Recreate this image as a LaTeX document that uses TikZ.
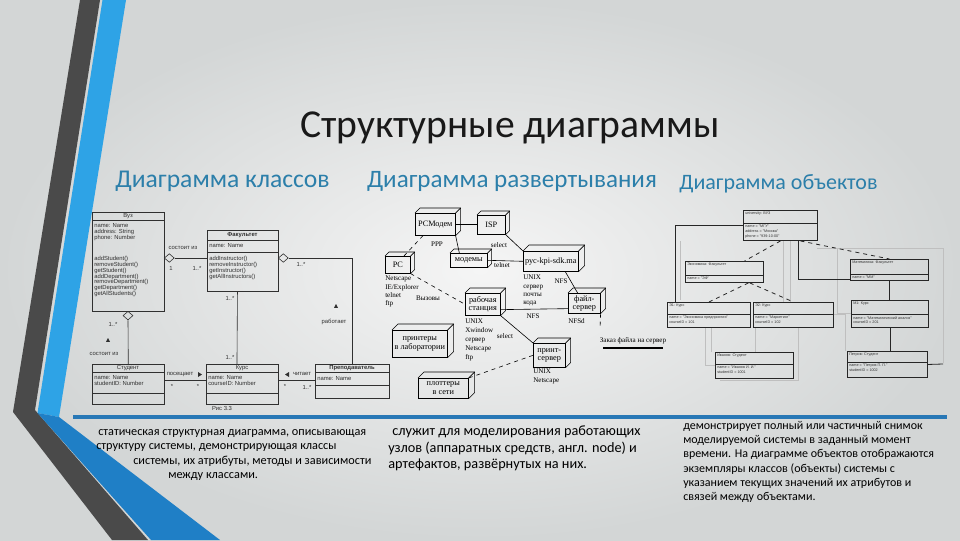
\documentclass[tikz,border=0pt]{standalone}
\usepackage{fontspec}
\setmainfont{Carlito}
\newfontfamily\dsans{Liberation Sans}
\newfontfamily\dserif{Liberation Serif}
\usetikzlibrary{calc,shapes.geometric}
\definecolor{bgin}{HTML}{F5F5F5}
\definecolor{bgout}{HTML}{D3D6D6}
\definecolor{darkstripe}{HTML}{4A4A4A}
\definecolor{bluestripe}{HTML}{2EA3E6}
\definecolor{bluestripe2}{HTML}{1F7FC6}
\definecolor{rulecol}{HTML}{2878B6}
\definecolor{headcol}{HTML}{2C7FAA}
\definecolor{ink}{HTML}{303030}
\newcommand{\clsbox}[5]{\node[cls, minimum width={(#4-#2)*0.75pt}, minimum height={(#5-#3)*0.75pt}] (#1) at (#2,#3) {};}
\newcommand{\cube}[7]{%
  \node[dnode, minimum width={(#4-#2)*0.75pt}, minimum height={(#5-#3)*0.75pt}] (#1) at (#2,#3) {#7};
  \draw[dl] (#1.north west) -- ++(#6,-#6) -- ($(#1.north east)+(#6,-#6)$) -- ($(#1.south east)+(#6,-#6)$) -- (#1.south east);
  \draw[dl] (#1.north east) -- ++(#6,-#6);}
\newcommand{\objbox}[8]{%
  \node[obox, minimum width={(#4-#2)*0.75pt}, minimum height={(#5-#3)*0.75pt}] (#1) at (#2,#3) {};
  \draw[ol] (#2,#6) -- (#4,#6);
  \node[otxt] (#1t) at (#2+2,#3+2) {#7};
  \node[otxt] (#1a) at (#2+2,#6+2) {#8};}
\newcommand{\tri}[2]{\fill[ink] (#1-2,#2+1.8) -- (#1+2,#2+1.8) -- (#1,#2-2) -- cycle;}
\begin{document}
\begin{tikzpicture}[x=0.75pt,y=-0.75pt,
  cls/.style={draw=ink, line width=0.45pt, inner sep=0, anchor=north west},
  sep/.style={draw=ink, line width=0.4pt},
  cl/.style={draw=ink, line width=0.45pt},
  dia/.style={diamond, draw=ink, line width=0.45pt, inner sep=0, minimum width=7.5pt, minimum height=6.5pt},
  tiny/.style={font=\dsans\fontsize{4.4}{4.6}\selectfont, inner sep=0, text=ink},
  tinyb/.style={font=\dsans\bfseries\fontsize{4.4}{4.6}\selectfont, inner sep=0, text=ink},
  tinyl/.style={font=\dsans\fontsize{4.4}{4.4}\selectfont, inner sep=0, text=ink, align=left, anchor=north west},
  dnode/.style={draw=black, line width=0.45pt, inner sep=0, anchor=north west, font=\dserif\fontsize{6.2}{6.4}\selectfont, align=center},
  dl/.style={draw=black, line width=0.45pt},
  dtxt/.style={font=\dserif\fontsize{5.3}{5.3}\selectfont, inner sep=0},
  dtl/.style={font=\dserif\fontsize{5.3}{6.2}\selectfont, inner sep=0, align=left, anchor=north west},
  obox/.style={draw=black!85, line width=0.7pt, inner sep=0, anchor=north west},
  ol/.style={draw=black!85, line width=0.6pt},
  faint/.style={draw=black!25, line width=0.4pt},
  otxt/.style={font=\dsans\fontsize{2.8}{3.6}\selectfont, inner sep=0, align=left, anchor=north west, text=black!80},
  bodytxt/.style={font=\fontsize{9.2}{10}\selectfont, inner sep=0, anchor=base west, text=black},
  bodytxtc/.style={font=\fontsize{9.0}{10}\selectfont, inner sep=0, anchor=base west, text=black},
  bodytxtb/.style={font=\fontsize{10.7}{12}\selectfont, inner sep=0, anchor=base west, text=black},
  head/.style={font=\fontsize{19.2}{20}\selectfont, text=headcol, inner sep=0, anchor=base}
]
\useasboundingbox (0,0) rectangle (960,540);
\shade[inner color=bgin, outer color=bgout] (0,0) rectangle (960,540);
% left stripes
\fill[darkstripe] (80,0) -- (100,0) -- (35,410) -- (148,540) -- (112,540) -- (13,412) -- cycle;
\fill[bluestripe] (102.5,0) -- (126,0) -- (59,417) -- (37.5,413) -- cycle;
\fill[bluestripe2] (37.5,413) -- (59,417) -- (220,540) -- (151,540) -- cycle;
% rule
\draw[rulecol, line width=3pt] (73,416.5) -- (947,416.5);

% titles
\node[font=\fontsize{29.7}{32}\selectfont, text=black!90, inner sep=0, anchor=base] (title) at (510,137) {Структурные диаграммы};
\node[head] (h1) at (222.5,187) {Диаграмма классов};
\node[head, font=\fontsize{18.8}{20}\selectfont] (h2) at (512,187) {Диаграмма развертывания};
\node[head, font=\fontsize{16.5}{18}\selectfont] (h3) at (778.5,189) {Диаграмма объектов};

% ===== class diagram =====
\clsbox{vuz}{92}{212}{164}{311}
\draw[sep] (92,220) -- (164,220);
\node[tiny] (vuzT) at (128,216.5) {Вуз};
\node[tinyl] (vuzA) at (94,223) {name: Name\\address: String\\phone: Number};
\node[tinyl] (vuzO) at (94,256) {addStudent()\\removeStudent()\\getStudent()\\addDepartment()\\removeDepartment()\\getDepartment()\\getAllStudents()};

\clsbox{fac}{207}{230}{278}{291}
\draw[sep] (207,240) -- (278,240);
\draw[sep] (207,252) -- (278,252);
\node[tinyb] (facT) at (242.5,235.5) {Факультет};
\node[tinyl] (facA) at (209,243.5) {name: Name};
\node[tinyl] (facO) at (209,256) {addInstructor()\\removeInstructor()\\getInstructor()\\getAllInstructors()};

\clsbox{stud}{92}{364}{164}{404}
\draw[sep] (92,372) -- (164,372);
\draw[sep] (92,393) -- (164,393);
\node[tiny] (studT) at (128,368) {Студент};
\node[tinyl] (studA) at (94,375) {name: Name\\studentID: Number};

\clsbox{kurs}{206}{364}{278}{404}
\draw[sep] (206,372) -- (278,372);
\draw[sep] (206,393) -- (278,393);
\node[tiny] (kursT) at (242,368) {Курс};
\node[tinyl] (kursA) at (208,375) {name: Name\\courseID: Number};

\clsbox{prep}{315}{364}{389}{398}
\draw[sep] (315,372) -- (389,372);
\draw[sep] (315,385) -- (389,385);
\node[tinyb] (prepT) at (352,368) {Преподаватель};
\node[tinyl] (prepA) at (317,376) {name: Name};

\node[dia, anchor=west] (d1) at (164,258) {};
\draw[cl] (d1.east) -- (d1.east -| fac.west);
\node[dia, anchor=west] (d2) at (278,258) {};
\draw[cl] (d2.east) -| (prep.north);
\draw[cl] ([xshift=-4pt]fac.south) -- ([xshift=-4pt]kurs.north);
\node[dia, anchor=north] (d3) at (128,311) {};
\draw[cl] (d3.south) -- (stud.north);
\draw[cl] ([yshift=3pt]stud.east) -- ([yshift=3pt]kurs.west);
\draw[cl] ([yshift=3pt]kurs.east) -- ([yshift=3pt]prep.west |- kurs.east);

\node[tiny] (l1) at (183,248) {состоит из};
\node[tiny] (l2) at (171,268) {1};
\node[tiny] (l3) at (197,268) {1..*};
\node[tiny] (l4) at (301,264) {1..*};
\tri{336}{306}
\node[tiny] (l5) at (334,322) {работает};
\node[tiny] (l6) at (230,298) {1..*};
\node[tiny] (l7) at (230,357) {1..*};
\node[tiny] (l8) at (113,324) {1..*};
\tri{108}{340}
\node[tiny] (l9) at (104,354) {состоит из};
\node[tiny] (l10) at (180,374) {посещает};
\fill[ink] (198,372) -- (202,374.5) -- (198,377) -- cycle;
\node[tiny] (l11) at (172,386) {*};
\node[tiny] (l12) at (198,386) {*};
\fill[ink] (289,372) -- (285,374.5) -- (289,377) -- cycle;
\node[tiny] (l13) at (302,374) {читает};
\node[tiny] (l14) at (285,386) {*};
\node[tiny] (l15) at (307,387) {1..*};
\node[tiny] (l16) at (222,408) {Рис 3.3};

% ===== deployment diagram =====
\cube{pcm}{415}{213}{455}{235}{5}{PCМодем}
\cube{isp}{477}{215}{505}{234}{4}{ISP}
\cube{modems}{450}{253}{487}{267}{4}{модемы}
\cube{kpi}{523}{251}{578}{271}{6}{рус-kpi-sdk.ma}
\cube{pc}{385}{256}{410}{273}{4}{PC}
\cube{ws}{465}{293}{500}{315}{5}{рабочая\\станция}
\cube{fs}{568}{293}{600}{313}{5}{файл-\\сервер}
\cube{pr}{392}{330}{447}{357}{6}{принтеры\\в лаборатории}
\cube{ps}{533}{343}{565}{367}{5}{принт-\\сервер}
\cube{pl}{418}{378}{468}{398}{6}{плоттеры\\в сети}

\draw[dl] (pcm.east) -- (isp.west |- pcm.east);
\draw[dl] (pcm.south east) -- ([xshift=7pt]modems.north west);
\node[dtxt] (ppp) at (437,244) {PPP};
\draw[dl] (modems.east) -- (kpi.west);
\node[dtxt] (telnet) at (502,265) {telnet};
\draw[dl] (isp.south east) -- (kpi.north west);
\node[dtxt] (sel1) at (499,245) {select};
\draw[dl, dashed] ([xshift=-5pt]pc.north east) -- ([xshift=6pt]pcm.south west);
\draw[dl, dashed] (pc.south east) -- (ws.west);
\node[dtxt] (calls) at (428,298) {Вызовы};
\draw[dl] ([yshift=-4pt]ws.east) -- ([yshift=-4pt]fs.west);
\node[dtxt] (nfs1) at (533,316) {NFS};
\draw[dl] ([xshift=-10pt]kpi.south east) -- ([xshift=-5pt]fs.north);
\node[dtxt] (nfs2) at (561,281) {NFS};
\draw[dl] (ws.south east) -- (ps.north west);
\node[dtxt] (sel2) at (505,336) {select};
\draw[dl, dashed] (ps.west) -- (pl.north east);
\coordinate (fsend) at (600,329);
\draw[dl, dashed] (fs.south east) -- (fsend);
\node[dtxt] (req) at (633,341) {Заказ файла на сервер};
\coordinate (reqa) at (603,348);
\coordinate (reqb) at (663,348);
\draw[line width=0.8pt] (reqa) -- (reqb);

\node[dtl] (pcT) at (385,276) {Netscape\\IE/Explorer\\telnet\\ftp};
\node[dtl, font=\dserif\fontsize{5.3}{6.2}\selectfont] (kpiT) at (523,275) {UNIX\\сервер\\почты\\кода};
\node[dtl, font=\dserif\fontsize{5.3}{6.7}\selectfont] (wsT) at (465,319) {UNIX\\Xwindow\\сервер\\Netscape\\ftp};
\node[dtl] (fsT) at (568,318) {NFSd};
\node[dtl] (psT) at (533,369) {UNIX\\Netscape};

% ===== object diagram =====
% faint lines
\draw[faint] (783,241) -- (783,302);
\draw[faint] (790,241) -- (790,302);
\draw[faint] (837,248) -- (837,313) -- (851,313);
\draw[faint] (817,248) -- (943,248) -- (943,363);
\draw[faint] (705,327) -- (705,365) -- (715,365);
\draw[faint] (711,327) -- (711,352);
\draw[faint] (755,327) -- (755,352);
\draw[faint] (798,327) -- (798,380) -- (720,380);
\draw[faint] (833,314) -- (845,314) -- (845,351);
\draw[faint] (680,241) -- (680,300);

\objbox{o1}{743}{210}{817}{240}{223}{university: ВУЗ}{name = "МГУ"\\address = "Москва"\\phone = "939-10-00"}
\objbox{o2}{685}{261}{763}{282}{275}{Экономика: Факультет}{name = "ЭФ"}
\objbox{o3}{850}{259}{928}{280}{274}{Математика: Факультет}{name = "ММ"}
\objbox{o4}{667}{302}{750}{327}{314}{Э1: Курс}{name = "Экономика предприятия"\\courseID = 101}
\objbox{o5}{753}{302}{833}{327}{314}{Э2: Курс}{name = "Маркетинг"\\courseID = 102}
\objbox{o6}{851}{300}{928}{327}{314}{М1: Курс}{name = "Математический анализ"\\courseID = 201}
\objbox{o7}{715}{352}{793}{378}{364}{Иванов: Студент}{name = "Иванов И. И."\\studentID = 1001}
\objbox{o8}{847}{351}{927}{377}{362}{Петров: Студент}{name = "Петров П. П."\\studentID = 1002}

\draw[ol] (o1.west) -| ([xshift=6pt]o4.north west);
\draw[ol] ([xshift=-15pt]o1.south east) |- ([yshift=1.5pt]o3.south west);
\draw[ol] (o3.south) -- (o3.south |- o6.north);
\draw[ol] (o6.south) -- (o6.south |- o8.north);
\coordinate (o8end) at (943,364);
\draw[ol] (o8.east) -- (o8end);
\draw[ol, dashed] (o1.south) -- ([xshift=15pt]o2.north);
\draw[ol, dashed] ([xshift=15pt]o1.south) -- (o3.north);
\draw[ol, dashed] ([xshift=18pt]o2.south) -- (o4.north);
\draw[ol, dashed] ([xshift=19pt]o2.south) -- (o5.north);

% ===== body texts =====
\node[bodytxt] (t1a) at (98,435) {статическая структурная диаграмма, описывающая};
\node[bodytxt] (t1b) at (96,449) {структуру системы, демонстрирующая классы};
\node[bodytxt] (t1c) at (133,464) {системы, их атрибуты, методы и зависимости};
\node[bodytxt] (t1d) at (168,478) {между классами.};

\node[bodytxtb] (t2a) at (392,435) {служит для моделирования работающих};
\node[bodytxtb] (t2b) at (388,452) {узлов (аппаратных средств, англ. node) и};
\node[bodytxtb] (t2c) at (388,468) {артефактов, развёрнутых на них.};

\node[bodytxtc] (t3a) at (683,429) {демонстрирует полный или частичный снимок};
\node[bodytxtc] (t3b) at (683,443) {моделируемой системы в заданный момент};
\node[bodytxtc] (t3c) at (683,457) {времени. На диаграмме объектов отображаются};
\node[bodytxtc] (t3d) at (683,472) {экземпляры классов (объекты) системы с};
\node[bodytxtc] (t3e) at (683,486) {указанием текущих значений их атрибутов и};
\node[bodytxtc] (t3f) at (683,500) {связей между объектами.};
\end{tikzpicture}
\end{document}
